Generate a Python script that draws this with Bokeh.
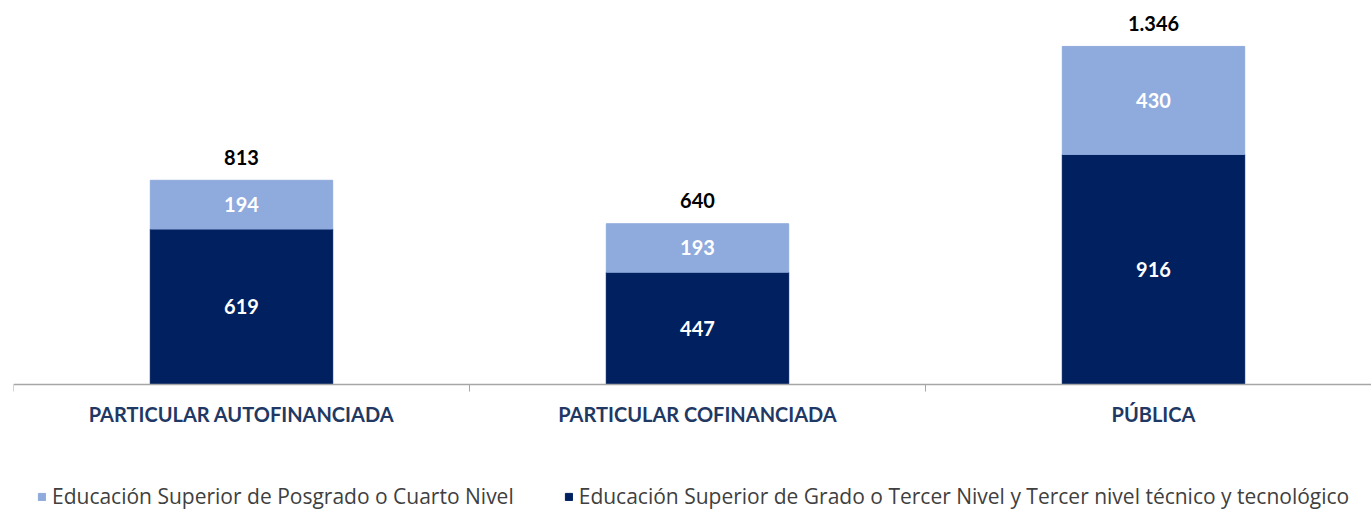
from bokeh.plotting import figure
from bokeh.models import ColumnDataSource, FixedTicker, Legend, LegendItem, Range1d
from bokeh.core.properties import value
from bokeh.embed import file_html
from bokeh.resources import INLINE

categories = ["PARTICULAR AUTOFINANCIADA", "PARTICULAR COFINANCIADA", "PÚBLICA"]
grado = [619, 447, 916]
posgrado = [194, 193, 430]
totals = [813, 640, 1346]
total_labels = ["813", "640", "1.346"]
series_names = ["Educación Superior de Posgrado o Cuarto Nivel",
                "Educación Superior de Grado o Tercer Nivel y Tercer nivel técnico y tecnológico"]

DARK = "#002060"
LIGHT = "#8FAADC"

x = list(range(len(categories)))
src = ColumnDataSource(dict(
    x=x, grado=grado, posgrado=posgrado, totals=totals,
    total_labels=total_labels,
    grado_mid=[g / 2 for g in grado],
    pos_mid=[g + p / 2 for g, p in zip(grado, posgrado)],
    grado_txt=[str(g) for g in grado],
    pos_txt=[str(p) for p in posgrado],
))

FW = 1358
FH = 503
PX_PER_UNIT = 376 / 1497
p = figure(frame_width=FW, frame_height=FH, output_backend="svg", toolbar_location=None,
           x_range=Range1d(-0.5, -0.5 + FW / 456),
           y_range=Range1d(-(FH - 376) / PX_PER_UNIT, 1497),
           min_border_left=13, min_border_right=0, min_border_top=8, min_border_bottom=0)
p.outline_line_color = None
p.grid.visible = False
p.yaxis.visible = False

r = p.vbar_stack(["grado", "posgrado"], x="x", width=0.4, color=[DARK, LIGHT], source=src)

fnt = value("Lato")
for col, txt in (("grado_mid", "grado_txt"), ("pos_mid", "pos_txt")):
    p.text(x="x", y=col, text=txt, source=src, text_color="white",
           text_font=fnt, text_font_style="bold", text_font_size="20px",
           text_align="center", text_baseline="middle")
p.text(x="x", y="totals", text="total_labels", source=src, text_color="black",
       text_font=fnt, text_font_style="bold", text_font_size="20px",
       text_align="center", text_baseline="middle", y_offset=-23)

ax = p.xaxis[0]
ax.fixed_location = 0
ax.ticker = FixedTicker(ticks=x, minor_ticks=[-0.5, 0.5, 1.5, 2.5])
ax.major_label_overrides = {i: c for i, c in enumerate(categories)}
ax.major_tick_line_color = None
ax.major_tick_out = 0
ax.minor_tick_out = 7
ax.minor_tick_in = 0
ax.minor_tick_line_color = "#A6A6A6"
ax.axis_line_color = "#A6A6A6"
ax.axis_line_width = 1.5
ax.major_label_text_font = "Lato"
ax.major_label_text_font_style = "bold"
ax.major_label_text_font_size = "20px"
ax.major_label_text_color = "#1F3864"
ax.major_label_standoff = 10

legend = Legend(items=[LegendItem(label=series_names[0], renderers=[r[1]]),
                       LegendItem(label=series_names[1], renderers=[r[0]])],
                orientation="horizontal", location=(24, 1),
                label_text_font="Open Sans", label_text_font_size="21px",
                label_text_color="#404040", glyph_width=9, glyph_height=9,
                spacing=50, border_line_color=None, background_fill_alpha=0,
                padding=0, margin=0, label_standoff=6)
p.add_layout(legend, "center")

open("out.html", "w").write(file_html(p, INLINE))
